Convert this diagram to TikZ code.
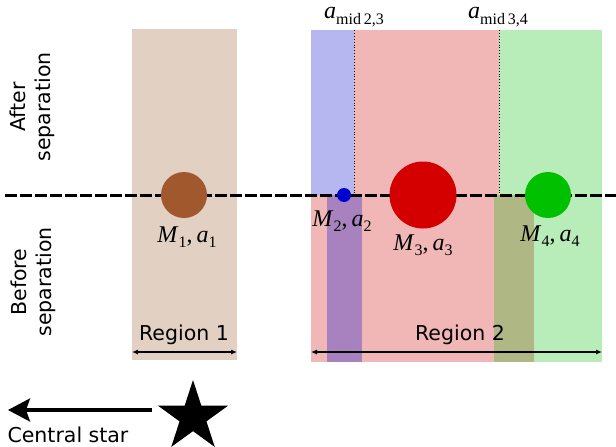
\documentclass[tikz,border=0pt]{standalone}
\usepackage[no-math]{fontspec}
\setmainfont{DejaVu Sans}
\newfontfamily\tms{Liberation Serif}
\usetikzlibrary{shapes.geometric,arrows.meta}
\definecolor{tanbg}{HTML}{E2D0C3}
\definecolor{pinkbg}{HTML}{F1B6B6}
\definecolor{bluebg}{HTML}{B6B6F0}
\definecolor{greenbg}{HTML}{B8ECB8}
\definecolor{purplebg}{HTML}{A782BE}
\definecolor{olivebg}{HTML}{AFB885}
\definecolor{brownp}{HTML}{A0582C}
\definecolor{bluep}{HTML}{0000CC}
\definecolor{redp}{HTML}{D40000}
\definecolor{greenp}{HTML}{00C000}
\newcommand{\varsub}[2]{\textit{#1}\raisebox{-0.22em}{\fontsize{16}{16}\selectfont #2}}
\newcommand{\pair}[1]{\varsub{M}{#1},\,\varsub{a}{#1}}
\tikzset{
  txt/.style={font=\fontsize{20.5}{25}\selectfont, inner sep=0pt, align=center},
  mth/.style={font=\tms\fontsize{24}{28}\selectfont, inner sep=0pt},
  planet/.style={circle, inner sep=0pt, draw=none},
  span/.style={line width=1.1pt, {Latex[length=6pt,width=5pt]}-{Latex[length=6pt,width=5pt]}},
  boundary/.style={dotted, line width=0.9pt},
}
\begin{document}
\begin{tikzpicture}[x=1pt,y=-1pt]
\useasboundingbox (0,0) rectangle (616,447);
% region 1
\fill[tanbg] (132,29) rectangle (237,360);
% region 2 after separation
\fill[bluebg] (311,30) rectangle (354,195);
\fill[pinkbg] (354,30) rectangle (499,195);
\fill[greenbg] (499,30) rectangle (602,195);
% region 2 before separation
\fill[pinkbg] (311,195) rectangle (602,362);
\fill[purplebg] (327,195) rectangle (362,362);
\fill[olivebg] (494,195) rectangle (534,362);
\fill[greenbg] (534,195) rectangle (602,362);
% boundaries
\coordinate (b23t) at (354,30); \coordinate (b23b) at (354,195);
\coordinate (b34t) at (499,30); \coordinate (b34b) at (499,195);
\draw[boundary] (b23t) -- (b23b);
\draw[boundary] (b34t) -- (b34b);
% separation line
\coordinate (sepL) at (5,195); \coordinate (sepR) at (616,195);
\draw[line width=3pt, dash pattern=on 11.7pt off 3.3pt] (sepL) -- (sepR);
% planets
\node[planet, fill=brownp, minimum size=46pt] (m1) at (184,195) {};
\node[planet, fill=bluep, minimum size=14pt] (m2) at (344,195) {};
\node[planet, fill=redp, minimum size=67pt] (m3) at (423,195) {};
\node[planet, fill=greenp, minimum size=46pt] (m4) at (548,195) {};
\node[mth] (l1) at (187,237) {\pair{1}};
\node[mth] (l2) at (342,221) {\pair{2}};
\node[mth] (l3) at (423,245) {\pair{3}};
\node[mth] (l4) at (550,236) {\pair{4}};
\node[mth] (am23) at (354,17) {\varsub{a}{mid\,2,3}};
\node[mth] (am34) at (498,17) {\varsub{a}{mid\,3,4}};
% side labels
\node[txt, rotate=90] (after) at (32,107) {After\\separation};
\node[txt, rotate=90] (before) at (33,282) {Before\\separation};
% region spans
\node[txt] (r1) at (184,335) {Region 1};
\node[txt] (r2) at (460,335) {Region 2};
\coordinate (r1a) at (132,352); \coordinate (r1b) at (237,352);
\coordinate (r2a) at (311,352); \coordinate (r2b) at (602,352);
\draw[span] (r1a) -- (r1b);
\draw[span] (r2a) -- (r2b);
% central star
\node[star, star points=5, star point ratio=2.618, fill=black, inner sep=0pt, minimum size=74pt] (star) at (193,417) {};
\coordinate (arrS) at (152,410);
\coordinate (arrE) at (8,410);
\draw[line width=3.5pt, -{Stealth[length=22pt,width=23pt,inset=4pt]}] (arrS) -- (arrE);
\node[txt] (cs) at (68,435) {Central star};
\end{tikzpicture}
\end{document}
